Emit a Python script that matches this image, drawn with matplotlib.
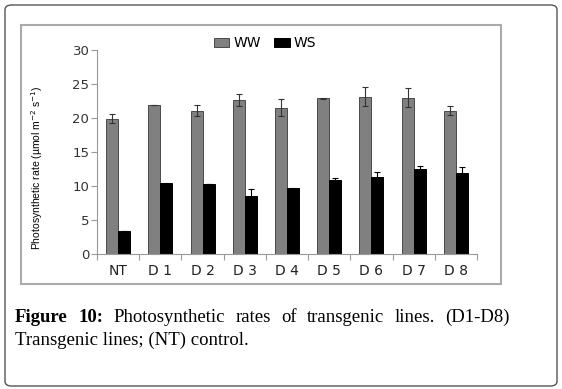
import matplotlib
matplotlib.use("Agg")
import matplotlib.pyplot as plt
import numpy as np
from matplotlib.patches import FancyBboxPatch, Rectangle

categories = ["NT", "D 1", "D 2", "D 3", "D 4", "D 5", "D 6", "D 7", "D 8"]
ww = [19.9, 21.9, 21.1, 22.7, 21.5, 22.9, 23.1, 23.0, 21.1]
ww_err = [0.7, 0.05, 0.85, 0.9, 1.25, 0.05, 1.4, 1.4, 0.7]
ws = [3.4, 10.4, 10.3, 8.5, 9.65, 10.95, 11.3, 12.5, 11.9]
ws_err = [0.05, 0.05, 0.05, 1.1, 0.1, 0.2, 0.8, 0.5, 0.85]
yticks = [0, 5, 10, 15, 20, 25, 30]

W, H = 562, 389
fig = plt.figure(figsize=(W / 100, H / 100), dpi=100)

def fx(px):
    return px / W

def fy(py):
    return 1 - py / H

# outer rounded border
fig.patches.append(FancyBboxPatch((fx(5), fy(386)), fx(552), (381) / H,
                                  boxstyle="round,pad=0,rounding_size=0.012",
                                  transform=fig.transFigure, fill=False,
                                  edgecolor="#555555", linewidth=1.0))
# inner chart frame
fig.patches.append(Rectangle((fx(21), fy(284)), fx(480), 259 / H,
                             transform=fig.transFigure, fill=False,
                             edgecolor="#aaaaaa", linewidth=1.5))

ax = fig.add_axes([fx(97), fy(254), fx(380), 204 / H])
n = len(categories)
x = np.arange(n)
bw = 0.285
ax.bar(x - bw / 2, ww, bw, color="#808080", edgecolor="#4a4a4a", linewidth=0.7,
       yerr=ww_err, error_kw=dict(ecolor="#333333", elinewidth=0.8, capsize=2.5, capthick=0.8),
       label="WW")
ax.bar(x + bw / 2, ws, bw, color="#000000", edgecolor="#000000", linewidth=0.7,
       yerr=ws_err, error_kw=dict(ecolor="#000000", elinewidth=0.8, capsize=2.5, capthick=0.8),
       label="WS")

ax.set_xlim(-0.5, n - 0.5)
ax.set_ylim(0, 30)
ax.set_yticks(yticks)
ax.set_yticklabels([str(v) for v in yticks], fontsize=9.5, color="#333333")
ax.set_xticks(np.arange(-0.5, n, 1.0))
ax.set_xticks(x, minor=True)
ax.set_xticklabels([""] * len(np.arange(-0.5, n, 1.0)))
ax.set_xticklabels(categories, minor=True, fontsize=10, color="#222222")
ax.tick_params(axis="x", which="major", length=4, color="#999999", direction="out")
ax.tick_params(axis="x", which="minor", length=0, pad=7)
ax.tick_params(axis="y", length=4, color="#999999", pad=1.5)
for s in ["top", "right"]:
    ax.spines[s].set_visible(False)
for s in ["left", "bottom"]:
    ax.spines[s].set_color("#999999")
    ax.spines[s].set_linewidth(0.8)

ax.set_ylabel("Photosynthetic rate (µmol m$^{-2}$ s$^{-1}$)", fontsize=7.5,
              family=["Liberation Sans", "DejaVu Sans"])
ax.yaxis.set_label_coords((45 - 97) / 380, (254 - 168) / 204)

leg = fig.legend(loc="center", bbox_to_anchor=(fx(265), fy(43)), ncol=2, frameon=False,
                 fontsize=10, handlelength=1.1, handleheight=0.6, columnspacing=1.0,
                 handletextpad=0.3)

# caption (line 1 justified between x=15 and x=510)
cy1, cy2 = 322, 345
words = [("Figure", True), ("10:", True), ("Photosynthetic", False),
         ("rates", False), ("of", False), ("transgenic", False),
         ("lines.", False), ("(D1-D8)", False)]
renderer = fig.canvas.get_renderer()
texts = []
for wtxt, bold in words:
    t = fig.text(0, fy(cy1), wtxt, fontsize=13.5, family="Liberation Serif",
                 fontweight="bold" if bold else "normal", va="baseline", ha="left")
    texts.append(t)
widths = [t.get_window_extent(renderer).width for t in texts]
left, right = 15, 510
gap = (right - left - sum(widths)) / (len(words) - 1)
pos = left
for t, w in zip(texts, widths):
    t.set_x(fx(pos))
    pos += w + gap
fig.text(fx(15), fy(cy2), "Transgenic lines; (NT) control.", fontsize=13.5,
         family="Liberation Serif", va="baseline", ha="left")

fig.savefig("out.png", dpi=100)
